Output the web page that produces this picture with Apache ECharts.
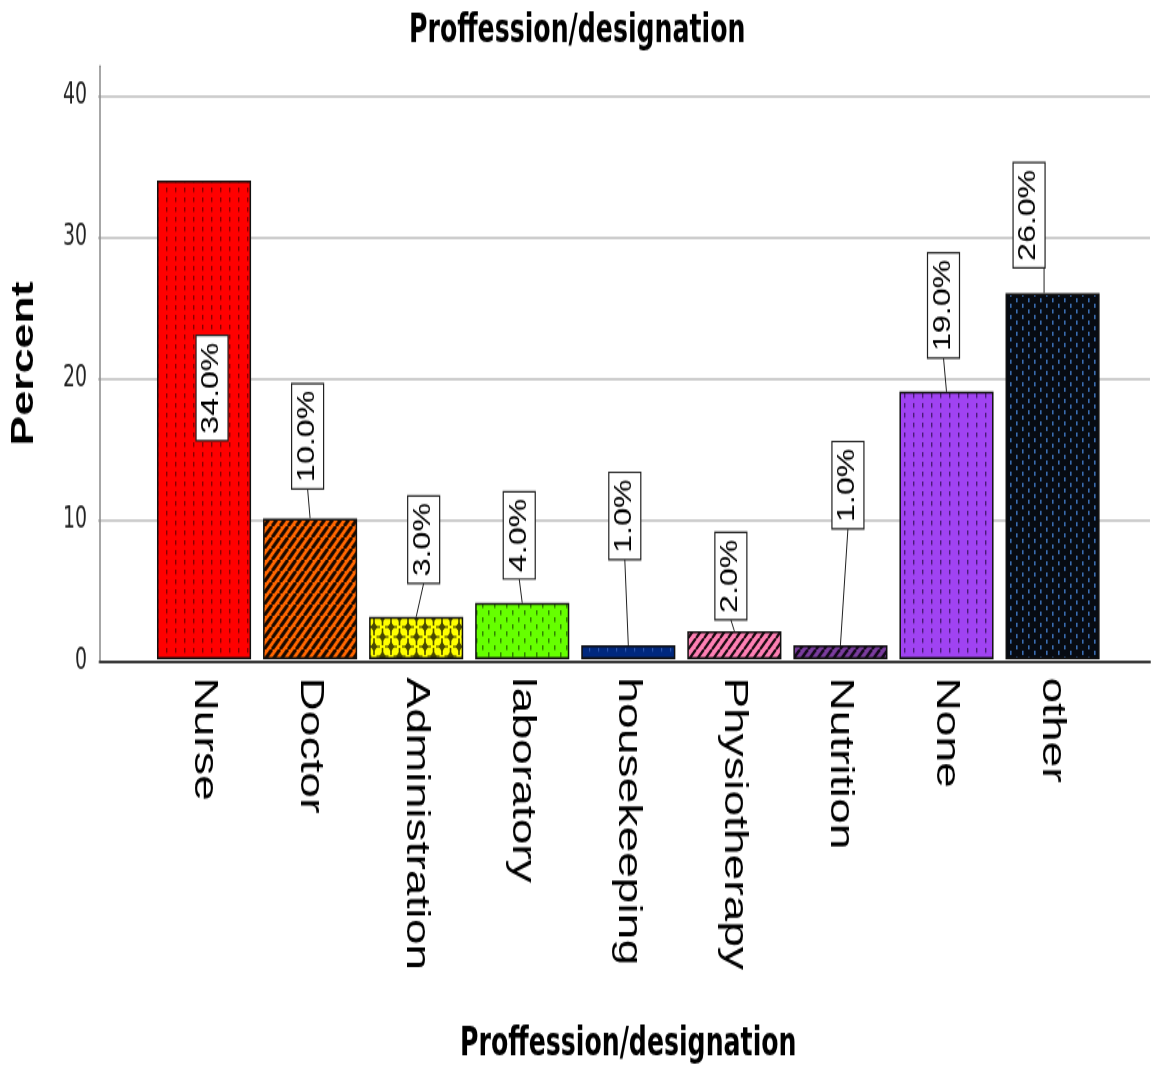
<!DOCTYPE html>
<html>
<head>
<meta charset="utf-8">
<title>Proffession/designation</title>
<script src="https://cdn.jsdelivr.net/npm/echarts@6/dist/echarts.min.js"></script>
<style>
  html { margin: 0; padding: 0; background: #fff; overflow: hidden; }
  body { margin: 0; padding: 0; background: #fff; width: 1163px; height: 1072px; }
  /* the chart is laid out on a shorter canvas and stretched vertically */
  #chart { width: 1163px; height: 766px; transform: scaleY(1.39948); transform-origin: 0 0; }
</style>
</head>
<body>
<div id="chart"></div>
<script>
// ---- data ----
const categories = ['Nurse', 'Doctor', 'Administration', 'laboratory', 'housekeeping',
                    'Physiotherapy', 'Nutrition', 'None', 'other'];
const percents = [34.0, 10.0, 3.0, 4.0, 1.0, 2.0, 1.0, 19.0, 26.0];
const yTickStep = 10;
const yTickMax = 40;

// ---- label placement (px): how far each value box sits above its bar, and sideways shift ----
const labelLift  = [-186, 21, 24, 17, 61, 8, 83, 24, 18];
const labelShift = [8, -2.5, 7.5, -3, -3.5, -3.5, 7.5, -3, -23.5];

const NARROW = '"Liberation Sans Narrow", "Arial Narrow", "DejaVu Sans Condensed", sans-serif';
const SANS = '"Liberation Sans", Arial, sans-serif';

// ---- fill patterns ----
function tile(w, h, bg, draw) {
  const c = document.createElement('canvas');
  c.width = w; c.height = h;
  const g = c.getContext('2d');
  g.fillStyle = bg; g.fillRect(0, 0, w, h);
  draw(g, w, h);
  return { image: c, repeat: 'repeat' };
}
function dashes(bg, fg, w, h, pts, dw, dh) {
  return tile(w, h, bg, g => {
    g.fillStyle = fg;
    pts.forEach(p => g.fillRect(p[0], p[1], dw, dh));
  });
}
function hatch(bg, fg, size, lw) {
  return tile(size, size, bg, (g, w, h) => {
    g.strokeStyle = fg; g.lineWidth = lw;
    g.beginPath();
    for (let k = -1; k <= 1; k++) {
      g.moveTo(k * w, h); g.lineTo(k * w + w, 0);
    }
    g.stroke();
  });
}
function crosses(bg, fg) {
  return tile(17, 14, bg, g => {
    g.fillStyle = fg;
    const blob = (cx, cy) => {
      g.beginPath();
      g.moveTo(cx, cy - 3.5); g.lineTo(cx + 3.5, cy); g.lineTo(cx, cy + 3.5); g.lineTo(cx - 3.5, cy);
      g.closePath(); g.fill();
      g.fillRect(cx - 0.8, cy - 6, 1.6, 12);
      g.fillRect(cx - 6, cy - 0.6, 12, 1.2);
    };
    [[0, 0], [17, 0], [0, 14], [17, 14], [8.5, 7]].forEach(p => blob(p[0], p[1]));
  });
}
const fills = [
  dashes('#ff0000', '#8a0000', 9, 7, [[4, 1]], 1.4, 3.4),
  hatch('#ff6600', '#1a0a00', 8, 3),
  crosses('#ffff00', '#4a4a00'),
  dashes('#66ff00', '#2f8400', 12, 10, [[2, 1], [8, 6]], 1.5, 3.5),
  dashes('#00287e', '#2f58b0', 9, 7, [[4, 1]], 1.2, 2.5),
  hatch('#ff80b4', '#1a0a10', 8, 2.2),
  hatch('#7a3c9e', '#140a1c', 8, 2.5),
  dashes('#a043f2', '#4a1a78', 9, 7, [[4, 1]], 1.4, 3.4),
  dashes('#070b12', '#3b6db0', 12, 8, [[2, 1], [8, 5]], 1.6, 3)
];

// ---- value label boxes with leader lines ----
const measureCtx = document.createElement('canvas').getContext('2d');
const LABEL_FONT = '23px ' + SANS;
measureCtx.font = LABEL_FONT;

function renderLabel(params, api) {
  const idx = params.dataIndex;
  const v = api.value(1);
  const top = api.coord([api.value(0), v]);
  const barX = top[0];
  const text = v.toFixed(1) + '%';
  const textW = measureCtx.measureText(text).width;
  const boxLen = textW + 10;
  const boxThick = 32;
  const boxBottom = top[1] - labelLift[idx];
  const cx = barX + labelShift[idx];
  const left = cx - boxThick / 2, right = cx + boxThick / 2;
  const children = [];
  if (labelLift[idx] > 0) {
    let xTop = cx, xBot = barX;
    if (barX > right - 1) { xTop = xBot = right - 1; }
    if (barX < left + 1) { xTop = xBot = left + 1; }
    children.push({
      type: 'line',
      shape: { x1: xTop, y1: boxBottom, x2: xBot, y2: top[1] },
      style: { stroke: '#222', lineWidth: 1 }
    });
  }
  children.push({
    type: 'rect',
    shape: { x: left, y: boxBottom - boxLen, width: boxThick, height: boxLen },
    style: { fill: '#fff', stroke: '#222', lineWidth: 1.2 }
  });
  children.push({
    type: 'text',
    x: cx, y: boxBottom - boxLen / 2,
    rotation: Math.PI / 2,
    style: {
      text: text, font: LABEL_FONT, fill: '#000',
      align: 'center', verticalAlign: 'middle',
      textAlign: 'center', textVerticalAlign: 'middle'
    }
  });
  return { type: 'group', children: children };
}

// ---- layout ----
const H = 766;
const baseY = 472.3, y40 = 68.6, axisTopY = 47.2;
const axisTopValue = yTickMax * (baseY - axisTopY) / (baseY - y40);

const chart = echarts.init(document.getElementById('chart'), null, { renderer: 'canvas' });

chart.setOption({
  animation: false,
  backgroundColor: '#fff',
  title: {
    text: 'Proffession/designation',
    left: 404, top: 4,
    textStyle: { fontFamily: NARROW, fontWeight: 'bold', fontSize: 28, color: '#000' }
  },
  grid: [
    { left: 98, right: 13, top: axisTopY, bottom: H - baseY },
    { left: 98, right: 13, top: y40, bottom: H - baseY },
    { left: 151, right: 57.4, top: axisTopY, bottom: H - baseY }
  ],
  xAxis: [
    { gridIndex: 0, type: 'value', min: 0, max: 1,
      axisLine: { show: true, lineStyle: { color: '#3a3a3a', width: 2 } },
      axisTick: { show: false }, axisLabel: { show: false }, splitLine: { show: false } },
    { gridIndex: 1, type: 'value', min: 0, max: 1, show: false },
    { gridIndex: 2, type: 'category', data: categories,
      axisLine: { show: false }, axisTick: { show: false },
      axisLabel: { rotate: -90, margin: 13, fontFamily: SANS, fontSize: 33, color: '#000', interval: 0 },
      name: 'Proffession/designation', nameLocation: 'middle', nameGap: 262, nameMoveOverlap: false,
      nameTextStyle: { fontFamily: NARROW, fontWeight: 'bold', fontSize: 28, color: '#000' } }
  ],
  yAxis: [
    { gridIndex: 0, type: 'value', min: 0, max: axisTopValue,
      axisLine: { show: true, lineStyle: { color: '#8a8a8a', width: 1.5 } },
      axisTick: { show: false }, axisLabel: { show: false }, splitLine: { show: false },
      name: 'Percent', nameLocation: 'middle', nameGap: 60,
      nameTextStyle: { fontFamily: SANS, fontWeight: 'bold', fontSize: 32, color: '#000' } },
    { gridIndex: 1, type: 'value', min: 0, max: yTickMax, interval: yTickStep,
      axisLine: { show: false }, axisTick: { show: false },
      axisLabel: { margin: 11, fontFamily: NARROW, fontSize: 21, color: '#222' },
      splitLine: { show: true, lineStyle: { color: '#cdcdcd', width: 2 } } },
    { gridIndex: 2, type: 'value', min: 0, max: axisTopValue, show: false }
  ],
  series: [
    {
      type: 'bar',
      xAxisIndex: 2, yAxisIndex: 2,
      barCategoryGap: '11.3%',
      data: percents.map((v, i) => ({
        value: v,
        itemStyle: { color: fills[i], borderColor: '#111', borderWidth: 1.5 }
      })),
      z: 3
    },
    {
      type: 'custom',
      xAxisIndex: 2, yAxisIndex: 2,
      data: percents.map((v, i) => [i, v]),
      encode: { x: 0, y: 1 },
      renderItem: renderLabel,
      clip: false,
      z: 5
    }
  ]
});
</script>
</body>
</html>
